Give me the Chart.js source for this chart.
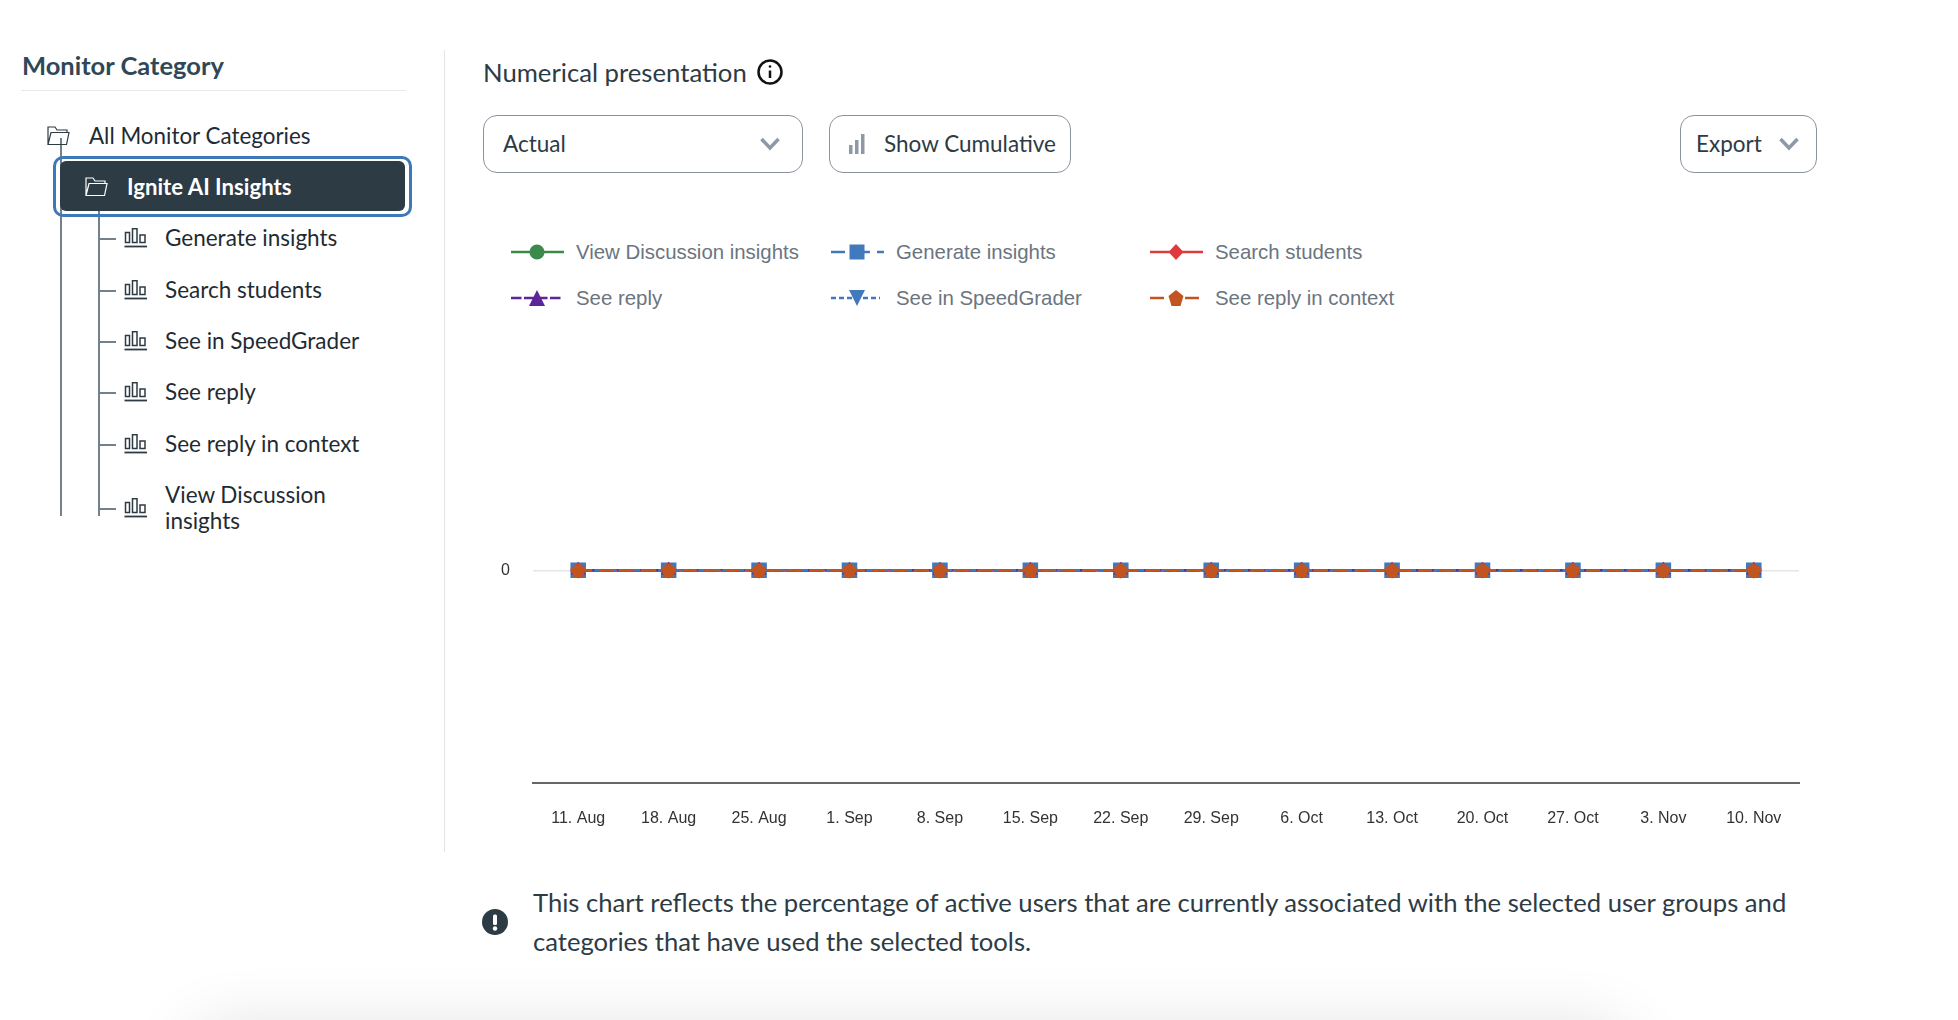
<!DOCTYPE html>
<html>
<head>
<meta charset="utf-8">
<title>Numerical presentation</title>
<script src="https://cdn.jsdelivr.net/npm/chart.js@4"></script>
<style>
    html, body { margin: 0; padding: 0; background: #fff; width: 1958px; height: 1020px; overflow: hidden; }
    body { font-family: Lato, sans-serif; color: #2d3b45; position: relative; }
    .abs { position: absolute; white-space: nowrap; }
    .mid { transform: translateY(-50%); line-height: 1; }
    .tree-line { position: absolute; background: #73818c; }
    .tree-label { position: absolute; left: 165px; font-size: 22.5px; color: #1f2b33; transform: translateY(-50%); line-height: 26px; width: 230px; }
    .box { position: absolute; box-sizing: border-box; border: 1.5px solid #8b939c; border-radius: 14px; background: #fff; }
    .btn-text { font-size: 22.5px; color: #2d3b45; }
    .legend-text { position: absolute; font-family: "Liberation Sans", Arial, sans-serif; font-size: 20.4px; color: #6b7580; transform: translateY(-50%); line-height: 1; white-space: nowrap; }
    #chart { position: absolute; left: 483px; top: 325px; }
    #shadow { position: absolute; left: 210px; top: 1045px; width: 1400px; height: 60px; background: #fff; box-shadow: 0 0 70px 10px rgba(0, 0, 0, .16); }
</style>
</head>
<body>
<div id="shadow"></div>

<!-- sidebar -->
<div class="abs mid" style="left:22px;top:66px;font-size:25.5px;font-weight:700;color:#2f4858">Monitor Category</div>
<div class="abs" style="left:21px;top:90px;width:385px;height:1px;background:#e8e8e8"></div>
<div class="abs" style="left:444px;top:50px;width:1px;height:802px;background:#e4e4e4"></div>

<div class="tree-line" style="left:60px;top:138px;width:2px;height:378px"></div>
<div class="tree-line" style="left:98px;top:199px;width:2px;height:317px"></div>
<div id="tree"></div>

<div class="abs" style="left:53px;top:156px;width:359px;height:61px;box-sizing:border-box;border:3px solid #3f78b8;border-radius:10px"></div>
<div class="abs" style="left:60px;top:161px;width:345px;height:50px;background:#2d3b45;border-radius:6px"></div>
<div class="abs mid" style="left:127px;top:186.5px;font-size:22.2px;font-weight:700;color:#fff">Ignite AI Insights</div>
<svg class="abs" style="left:85px;top:177px" width="23" height="20" fill="none" stroke="#fff" stroke-width="1.2"><path d="M1 18.5V1H8L10 4H20V6.5M1 18.5L4 6.5H22L19.5 18.5Z"/></svg>

<div class="abs mid" style="left:89px;top:136px;font-size:22.4px;color:#1f2b33">All Monitor Categories</div>
<svg class="abs" style="left:47px;top:126px" width="23" height="20" fill="none" stroke="#2d3b45" stroke-width="1.2"><path d="M1 18.5V1H8L10 4H20V6.5M1 18.5L4 6.5H22L19.5 18.5Z"/></svg>

<!-- header controls -->
<div class="abs mid" style="left:483px;top:73px;font-size:25.7px;color:#2d3b45">Numerical presentation</div>
<svg class="abs" style="left:756px;top:58px" width="28" height="28" fill="none" stroke="#111"><circle cx="14" cy="14" r="11.5" stroke-width="2.5"/><path d="M14 12.5V20" stroke-width="2.5"/><circle cx="14" cy="8.5" r="1.3" fill="#111" stroke="none"/></svg>

<div class="box" style="left:483px;top:115px;width:320px;height:58px"></div>
<div class="abs mid btn-text" style="left:503px;top:144px">Actual</div>
<svg class="abs" style="left:759px;top:136px" width="22" height="16" fill="none" stroke="#8d99a8" stroke-width="3.5"><path d="M2.5 3L11 12L19.5 3"/></svg>

<div class="box" style="left:829px;top:115px;width:242px;height:58px"></div>
<svg class="abs" style="left:847px;top:133px" width="20" height="22" fill="#8d99a8"><rect x="2" y="12" width="3.5" height="9"/><rect x="8" y="7" width="3.5" height="14"/><rect x="14" y="1" width="3.5" height="20"/></svg>
<div class="abs mid btn-text" style="left:884px;top:144px">Show Cumulative</div>

<div class="box" style="left:1680px;top:115px;width:137px;height:58px"></div>
<div class="abs mid btn-text" style="left:1696px;top:144px">Export</div>
<svg class="abs" style="left:1778px;top:136px" width="22" height="16" fill="none" stroke="#8d99a8" stroke-width="3.5"><path d="M2.5 3L11 12L19.5 3"/></svg>

<!-- legend and chart -->
<div id="legend"></div>
<canvas id="chart" width="1327" height="518"></canvas>

<!-- note -->
<svg class="abs" style="left:482px;top:909px" width="26" height="26"><circle cx="13" cy="13" r="13" fill="#2d3b45"/><rect x="11" y="5.5" width="4" height="10.5" rx="1.5" fill="#fff"/><circle cx="13" cy="19.5" r="2.2" fill="#fff"/></svg>
<div class="abs mid" style="left:533px;top:903px;font-size:25.63px;color:#2d3b45">This chart reflects the percentage of active users that are currently associated with the selected user groups and</div>
<div class="abs mid" style="left:533px;top:942px;font-size:25.63px;color:#2d3b45">categories that have used the selected tools.</div>

<script>
const categories = ['11. Aug', '18. Aug', '25. Aug', '1. Sep', '8. Sep', '15. Sep', '22. Sep', '29. Sep', '6. Oct', '13. Oct', '20. Oct', '27. Oct', '3. Nov', '10. Nov'];
const viewDiscussionInsights = [0, 0, 0, 0, 0, 0, 0, 0, 0, 0, 0, 0, 0, 0];
const generateInsights = [0, 0, 0, 0, 0, 0, 0, 0, 0, 0, 0, 0, 0, 0];
const searchStudents = [0, 0, 0, 0, 0, 0, 0, 0, 0, 0, 0, 0, 0, 0];
const seeReply = [0, 0, 0, 0, 0, 0, 0, 0, 0, 0, 0, 0, 0, 0];
const seeInSpeedGrader = [0, 0, 0, 0, 0, 0, 0, 0, 0, 0, 0, 0, 0, 0];
const seeReplyInContext = [0, 0, 0, 0, 0, 0, 0, 0, 0, 0, 0, 0, 0, 0];
const yTicks = [0];
const treeItems = ['Generate insights', 'Search students', 'See in SpeedGrader', 'See reply', 'See reply in context', 'View Discussion\ninsights'];

document.addEventListener('DOMContentLoaded', function () {
    // Sidebar tree rows
    const treeY = [238, 290, 341, 392, 444, 508];
    const tree = document.getElementById('tree');
    treeItems.forEach(function (name, i) {
        const y = treeY[i];
        const row = document.createElement('div');
        row.innerHTML = `
            <div class="tree-line" style="left:99px;top:${y}px;width:17px;height:1.5px"></div>
            <svg class="abs" style="left:124px;top:${y - 10}px" width="24" height="21" fill="none" stroke="#2d3b45" stroke-width="1.5">
                <rect x="1.5" y="4.5" width="4" height="10"/><rect x="8.5" y="0.7" width="4.5" height="13.8"/><rect x="16" y="7" width="5" height="7.5"/><path d="M0.5 18.5H23" stroke-width="1.8"/>
            </svg>
            <div class="tree-label" style="top:${y}px">${name.replace('\n', '<br>')}</div>`;
        tree.appendChild(row);
    });

    // Pentagon marker, Chart.js has no built in one
    function pentagon(color) {
        const c = document.createElement('canvas');
        c.width = 16;
        c.height = 16;
        const g = c.getContext('2d');
        g.fillStyle = color;
        g.beginPath();
        g.moveTo(8, 0.5);
        g.lineTo(15.5, 6);
        g.lineTo(12.7, 15);
        g.lineTo(3.3, 15);
        g.lineTo(0.5, 6);
        g.closePath();
        g.fill();
        return c;
    }

    const series = [
        { label: 'View Discussion insights', data: viewDiscussionInsights, color: '#3a8a4b', dash: [], legendDash: [], offset: 0, length: 53, pointStyle: 'circle', radius: 7.5, rotation: 0, marker: 'circle' },
        { label: 'Generate insights', data: generateInsights, color: '#4179bd', dash: [18, 7], legendDash: [18, 7], offset: 4, length: 53, pointStyle: 'rect', radius: 11, rotation: 0, marker: 'square' },
        { label: 'Search students', data: searchStudents, color: '#e03a3e', dash: [], legendDash: [], offset: 0, length: 53, pointStyle: 'rectRot', radius: 8, rotation: 0, marker: 'diamond' },
        { label: 'See reply', data: seeReply, color: '#5c2599', dash: [10.5, 2.5], legendDash: [10.5, 2.5], offset: 0, length: 50, pointStyle: 'triangle', radius: 8.5, rotation: 0, marker: 'triangle' },
        { label: 'See in SpeedGrader', data: seeInSpeedGrader, color: '#4179bd', dash: [6, 2], legendDash: [5, 3], offset: 0, length: 49, pointStyle: 'triangle', radius: 8.5, rotation: 180, marker: 'triangleDown' },
        { label: 'See reply in context', data: seeReplyInContext, color: '#c2551f', dash: [14, 7], legendDash: [14, 21], offset: 0, length: 49, pointStyle: pentagon('#c2551f'), radius: 8, rotation: 0, marker: 'pentagon' }
    ];

    const markerShapes = {
        circle: '<circle cx="26" cy="12" r="7.5"/>',
        square: '<rect x="18.5" y="4.5" width="15" height="15"/>',
        diamond: '<polygon points="26,4 33.5,12 26,20 18.5,12"/>',
        triangle: '<polygon points="26,4 34,20 18,20"/>',
        triangleDown: '<polygon points="18,4 34,4 26,20"/>',
        pentagon: '<polygon points="26,4 33.5,10 30.5,20 21.5,20 18.5,10"/>'
    };

    // Legend
    const legendX = [511, 831, 1150];
    const legendY = [252, 298];
    const legend = document.getElementById('legend');
    series.forEach(function (s, i) {
        const x = legendX[i % 3];
        const y = legendY[Math.floor(i / 3)];
        const item = document.createElement('div');
        item.innerHTML = `
            <svg class="abs" style="left:${x}px;top:${y - 12}px" width="54" height="24" fill="${s.color}">
                <line x1="0" y1="12" x2="${s.length}" y2="12" stroke="${s.color}" stroke-width="2.5" stroke-dasharray="${s.legendDash.join(' ')}" stroke-dashoffset="${s.offset}"/>
                ${markerShapes[s.marker]}
            </svg>
            <div class="legend-text" style="left:${x + 65}px;top:${y}px">${s.label}</div>`;
        legend.appendChild(item);
    });

    // Chart, later series are on top
    new Chart(document.getElementById('chart').getContext('2d'), {
        type: 'line',
        data: {
            labels: categories,
            datasets: series.map(function (s, i) {
                return {
                    label: s.label,
                    data: s.data,
                    borderColor: s.color,
                    backgroundColor: s.color,
                    borderWidth: 2.5,
                    borderDash: s.dash,
                    pointStyle: s.pointStyle,
                    pointRadius: s.radius,
                    pointRotation: s.rotation,
                    pointBorderWidth: 0,
                    fill: false,
                    tension: 0,
                    order: series.length - i
                };
            })
        },
        options: {
            responsive: false,
            animation: false,
            layout: { padding: 0 },
            plugins: { legend: { display: false }, tooltip: { enabled: false } },
            scales: {
                x: {
                    offset: true,
                    afterFit: function (scale) { scale.height = 60; },
                    grid: { display: false },
                    border: { color: '#666', width: 2 },
                    ticks: {
                        maxRotation: 0,
                        autoSkip: false,
                        padding: 18,
                        color: '#333',
                        font: { family: '"Liberation Sans"', size: 16 }
                    }
                },
                y: {
                    min: -1,
                    max: 1,
                    afterBuildTicks: function (scale) {
                        scale.ticks = yTicks.map(function (v) { return { value: v }; });
                    },
                    afterFit: function (scale) { scale.width = 50; },
                    grid: { color: '#e6e6e6', lineWidth: 1.5, drawTicks: false },
                    border: { display: false },
                    ticks: {
                        padding: 23,
                        color: '#333',
                        font: { family: '"Liberation Sans"', size: 16 }
                    }
                }
            }
        }
    });
});
</script>
</body>
</html>
